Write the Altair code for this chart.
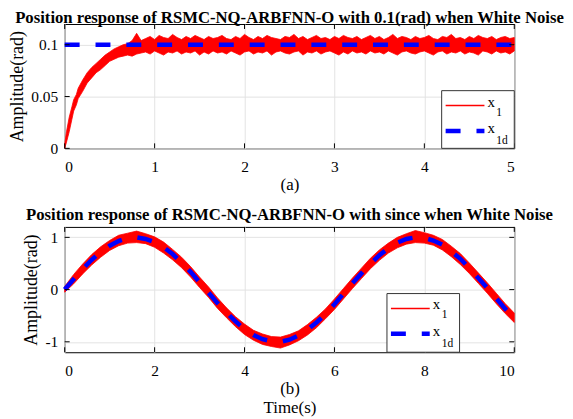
import altair as alt
import pandas as pd

FONT = "Liberation Serif"

# ---------------- Panel (a): step response 0.1 rad ----------------
t_a = [0, 0.02, 0.05, 0.08, 0.1, 0.13, 0.15, 0.2, 0.25, 0.3, 0.35, 0.4, 0.45, 0.5,
       0.55, 0.6, 0.65, 0.7, 0.75, 0.8, 0.85]
lo_a = [0, 0.006, 0.016, 0.028, 0.036, 0.042, 0.048, 0.055, 0.063, 0.068, 0.073,
        0.076, 0.080, 0.084, 0.086, 0.088, 0.089, 0.090, 0.089, 0.091, 0.092]
hi_a = [0.004, 0.016, 0.030, 0.040, 0.047, 0.052, 0.058, 0.066, 0.073, 0.078, 0.082,
        0.086, 0.090, 0.093, 0.096, 0.098, 0.100, 0.101, 0.104, 0.111, 0.104]
# flat part, every 0.05 s from 0.9 to 5.0
t_a += [round(0.9 + 0.05 * i, 2) for i in range(83)]
hi_a += [0.106, 0.108, 0.105, 0.109, 0.107, 0.106, 0.110, 0.107, 0.105, 0.108,
         0.106, 0.109, 0.107, 0.105, 0.108, 0.106, 0.107, 0.109, 0.106, 0.105,
         0.108, 0.106, 0.110, 0.107, 0.105, 0.108, 0.106, 0.109, 0.107, 0.106,
         0.105, 0.108, 0.107, 0.110, 0.106, 0.108, 0.105, 0.107, 0.109, 0.106,
         0.107, 0.105, 0.108, 0.106, 0.109, 0.107, 0.106, 0.108, 0.105, 0.107,
         0.109, 0.106, 0.108, 0.105, 0.107, 0.110, 0.106, 0.108, 0.107, 0.105,
         0.108, 0.106, 0.107, 0.109, 0.106, 0.105, 0.108, 0.107, 0.110, 0.106,
         0.107, 0.105, 0.108, 0.106, 0.109, 0.107, 0.106, 0.108, 0.105, 0.107,
         0.108, 0.106, 0.107]
lo_a += [0.093, 0.091, 0.094, 0.092, 0.090, 0.093, 0.092, 0.094, 0.091, 0.093,
         0.092, 0.094, 0.090, 0.093, 0.091, 0.094, 0.092, 0.093, 0.091, 0.094,
         0.092, 0.090, 0.093, 0.094, 0.091, 0.093, 0.092, 0.094, 0.090, 0.093,
         0.094, 0.092, 0.091, 0.093, 0.094, 0.090, 0.093, 0.092, 0.094, 0.091,
         0.093, 0.094, 0.092, 0.090, 0.093, 0.091, 0.094, 0.092, 0.093, 0.091,
         0.094, 0.092, 0.093, 0.091, 0.094, 0.092, 0.090, 0.093, 0.094, 0.092,
         0.091, 0.093, 0.094, 0.092, 0.090, 0.093, 0.094, 0.091, 0.093, 0.092,
         0.094, 0.091, 0.093, 0.092, 0.090, 0.094, 0.093, 0.091, 0.094, 0.092,
         0.093, 0.091, 0.094]
td_a = [0, 5]
yd_a = [0.1, 0.1]

# ---------------- Panel (b): sine response ----------------
t_b = [round(0.2 * i, 1) for i in range(51)]
yd_b = [0.00, 0.20, 0.39, 0.57, 0.72, 0.84, 0.93, 0.99, 1.00, 0.97, 0.91, 0.81, 0.68,
        0.52, 0.34, 0.14, -0.06, -0.26, -0.44, -0.61, -0.76, -0.87, -0.95, -0.99,
        -1.00, -0.96, -0.88, -0.77, -0.63, -0.47, -0.28, -0.08, 0.12, 0.31, 0.49,
        0.66, 0.79, 0.90, 0.97, 1.00, 0.99, 0.94, 0.86, 0.73, 0.59, 0.41, 0.22,
        0.03, -0.17, -0.37, -0.54]
hi_b = [0.06, 0.29, 0.49, 0.67, 0.82, 0.94, 1.04, 1.08, 1.12, 1.07, 1.01, 0.91, 0.77,
        0.62, 0.44, 0.24, 0.05, -0.16, -0.35, -0.52, -0.66, -0.78, -0.85, -0.90,
        -0.91, -0.86, -0.79, -0.67, -0.53, -0.37, -0.18, 0.02, 0.22, 0.41, 0.60,
        0.76, 0.89, 1.00, 1.07, 1.13, 1.09, 1.04, 0.96, 0.83, 0.69, 0.51, 0.32,
        0.13, -0.07, -0.27, -0.45]
lo_b = [-0.05, 0.11, 0.30, 0.47, 0.62, 0.75, 0.84, 0.89, 0.90, 0.88, 0.81, 0.70, 0.57,
        0.42, 0.24, 0.04, -0.15, -0.36, -0.54, -0.71, -0.86, -0.97, -1.05, -1.09,
        -1.12, -1.06, -0.98, -0.87, -0.73, -0.56, -0.38, -0.18, 0.02, 0.21, 0.40,
        0.56, 0.70, 0.80, 0.87, 0.90, 0.89, 0.85, 0.76, 0.63, 0.48, 0.31, 0.12,
        -0.07, -0.27, -0.46, -0.63]

RED = "#ff0000"
BLUE = "#0000ff"


def one():
    return pd.DataFrame({"k": [0]})


def panel(t, lo, hi, td, yd, xdom, ydom, xticks, yticks, title, xtitle, W, H, ldx,
          toff):
    xs = alt.Scale(domain=xdom, nice=False, zero=False)
    ys = alt.Scale(domain=ydom, nice=False, zero=False)
    common = dict(labelExpr="datum.value + ''", grid=True, labelFont=FONT,
                  titleFont=FONT, labelFontSize=15.5)
    xax = alt.Axis(values=xticks, labelPadding=11, titlePadding=2, titleFontSize=17,
                   titleLineHeight=19, **common)
    yax = alt.Axis(values=yticks, labelPadding=7, titlePadding=4, titleFontSize=18,
                   **common)

    def X(f):
        return alt.X(f, scale=xs, axis=xax, title=xtitle)

    def Y(f):
        return alt.Y(f, scale=ys, axis=yax, title="Amplitude(rad)")

    band_df = pd.DataFrame({"t": t, "lo": lo, "hi": hi})
    ref_df = pd.DataFrame({"t": td, "yd": yd})
    band = alt.Chart(band_df).mark_area(color=RED, opacity=1, stroke=RED,
                                        strokeWidth=0.8).encode(
        x=X("t:Q"), y=Y("lo:Q"), y2="hi:Q")
    ref = alt.Chart(ref_df).mark_line(color=BLUE, strokeWidth=4.5,
                                      strokeDash=[15, 16]).encode(
        x=X("t:Q"), y=Y("yd:Q"))
    xt = pd.DataFrame({"tick": xticks})
    yt = pd.DataFrame({"tick": yticks})
    tk = dict(color="black", strokeWidth=1)
    xt_b = alt.Chart(xt).mark_rule(**tk).encode(
        x=X("tick:Q"), y=alt.value(H), y2=alt.value(H - 5))
    xt_t = alt.Chart(xt).mark_rule(**tk).encode(
        x=X("tick:Q"), y=alt.value(0), y2=alt.value(5))
    yt_l = alt.Chart(yt).mark_rule(**tk).encode(
        y=Y("tick:Q"), x=alt.value(0), x2=alt.value(5))
    yt_r = alt.Chart(yt).mark_rule(**tk).encode(
        y=Y("tick:Q"), x=alt.value(W - 5), x2=alt.value(W))

    # legend (drawn as in the reference, with subscripts)
    box = alt.Chart(one()).mark_rect(fill="white", stroke="#333333", strokeWidth=1).encode(
        x=alt.value(379 + ldx), x2=alt.value(W + ldx), y=alt.value(67), y2=alt.value(H))
    l_red = alt.Chart(one()).mark_rule(color=RED, stroke=RED, strokeWidth=1.5).encode(
        x=alt.value(383 + ldx), x2=alt.value(422 + ldx), y=alt.value(82),
        color=alt.value(RED))
    l_blue = alt.Chart(one()).mark_rule(color=BLUE, strokeWidth=4.5,
                                        strokeDash=[15, 16]).encode(
        x=alt.value(383 + ldx), x2=alt.value(422 + ldx), y=alt.value(107.5))
    txt = dict(align="left", baseline="alphabetic", font=FONT, color="black")
    t1 = alt.Chart(one()).mark_text(text="x", fontSize=15, **txt).encode(
        x=alt.value(425 + ldx), y=alt.value(83))
    s1 = alt.Chart(one()).mark_text(text="1", fontSize=11.5, **txt).encode(
        x=alt.value(434 + ldx), y=alt.value(92))
    t2 = alt.Chart(one()).mark_text(text="x", fontSize=15, **txt).encode(
        x=alt.value(425 + ldx), y=alt.value(110))
    s2 = alt.Chart(one()).mark_text(text="1d", fontSize=11.5, **txt).encode(
        x=alt.value(434 + ldx), y=alt.value(121))

    return alt.layer(band, ref, xt_b, xt_t, yt_l, yt_r, box, l_red, l_blue,
                     t1, s1, t2, s2).properties(
        width=W, height=H,
        title=alt.Title(title, font=FONT, fontSize=16.8, fontWeight="bold",
                        color="black", anchor="middle", offset=toff),
    )


top = panel(t_a, lo_a, hi_a, td_a, yd_a, [0, 5], [0, 0.12], [0, 1, 2, 3, 4, 5],
            [0, 0.05, 0.1],
            "Position response of RSMC-NQ-ARBFNN-O with 0.1(rad) when White Noise",
            "(a)", 452, 125, 0, -3)
bottom = panel(t_b, lo_b, hi_b, t_b, yd_b, [0, 10], [-1.2, 1.2], [0, 2, 4, 6, 8, 10],
               [-1, 0, 1],
               "Position response of RSMC-NQ-ARBFNN-O with since when White Noise",
               ["(b)", "Time(s)"], 452, 126, -55, 3)

chart = alt.vconcat(top, bottom, spacing=13).properties(
    padding={"left": 0, "top": 0, "right": 0, "bottom": 0}
).configure_view(stroke="black", strokeWidth=1).configure_axis(
    labelFont=FONT, titleFont=FONT, labelColor="black", titleColor="black",
    titleFontWeight="normal", gridColor="#e3e3e3", gridWidth=1, ticks=False,
    domain=False,
)

chart.save("out.html", embed_options={"renderer": "svg", "actions": False})
